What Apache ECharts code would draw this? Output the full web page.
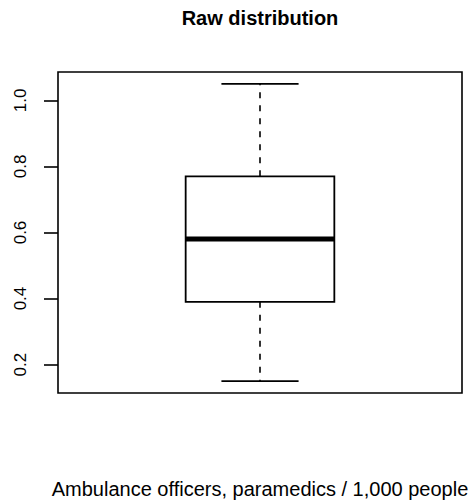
<!DOCTYPE html>
<html>
<head>
<meta charset="utf-8">
<script src="https://cdn.jsdelivr.net/npm/echarts@6/dist/echarts.min.js"></script>
<style>
html,body{margin:0;padding:0;background:#fff;overflow:hidden;}
#chart{width:473px;height:504px;}
</style>
</head>
<body>
<div id="chart"></div>
<script>
// ---- data ----
const titleText = 'Raw distribution';
const xLabel = 'Ambulance officers, paramedics / 1,000 people';
const boxPositions = [1];
const whiskerLow = [0.15];
const quartile1 = [0.39];
const medians = [0.58];
const quartile3 = [0.77];
const whiskerHigh = [1.05];
const yTicks = [0.2, 0.4, 0.6, 0.8, 1.0];
const yTickLabels = ['0.2', '0.4', '0.6', '0.8', '1.0'];

// R-style axis range: data range extended by 4% on each side
const dataMin = Math.min(...whiskerLow);
const dataMax = Math.max(...whiskerHigh);
const pad = (dataMax - dataMin) * 0.04;

const seriesData = boxPositions.map((p, i) => [p, whiskerLow[i], quartile1[i], medians[i], quartile3[i], whiskerHigh[i]]);

const FONT = '"Liberation Sans", Arial, Helvetica, sans-serif';
const BOX_HALF = 0.184;   // in x-data units
const CAP_HALF = 0.0955;

const chart = echarts.init(document.getElementById('chart'), null, {renderer: 'svg'});
chart.setOption({
  animation: false,
  backgroundColor: '#fff',
  title: {
    text: titleText,
    left: 255,
    top: 3,
    textAlign: 'center',
    textStyle: {fontFamily: FONT, fontSize: 20, fontWeight: 'bold', color: '#000'}
  },
  grid: {
    left: 58, top: 72, width: 404, height: 321,
    outerBoundsMode: 'none', containLabel: false,
    show: true, borderColor: '#000', borderWidth: 1.6, backgroundColor: 'transparent'
  },
  xAxis: {
    type: 'value', min: 0.5, max: 1.5,
    name: xLabel, nameLocation: 'middle', nameGap: 86,
    nameTextStyle: {fontFamily: FONT, fontSize: 20, color: '#000'},
    axisLine: {show: false}, axisTick: {show: false}, axisLabel: {show: false},
    splitLine: {show: false}
  },
  yAxis: {
    type: 'value', min: dataMin - pad, max: dataMax + pad,
    axisLine: {show: false},
    splitLine: {show: false},
    axisTick: {show: true, length: 14, customValues: yTicks, lineStyle: {color: '#000', width: 1.6}},
    axisLabel: {
      show: true, customValues: yTicks, rotate: 90, margin: 29,
      formatter: v => yTickLabels[yTicks.findIndex(t => Math.abs(t - v) < 1e-9)],
      fontFamily: FONT, fontSize: 17, color: '#000'
    }
  },
  series: [{
    type: 'custom',
    data: seriesData,
    clip: false,
    renderItem: function (params, api) {
      const x = api.value(0);
      const lo = api.value(1), q1 = api.value(2), md = api.value(3), q3 = api.value(4), hi = api.value(5);
      const pLo = api.coord([x, lo]), pQ1 = api.coord([x, q1]), pMd = api.coord([x, md]);
      const pQ3 = api.coord([x, q3]), pHi = api.coord([x, hi]);
      const bl = api.coord([x - BOX_HALF, md])[0], br = api.coord([x + BOX_HALF, md])[0];
      const cl = api.coord([x - CAP_HALF, md])[0], cr = api.coord([x + CAP_HALF, md])[0];
      const cx = pMd[0];
      const solid = {stroke: '#000', lineWidth: 1.8, fill: null};
      const dashed = {stroke: '#000', lineWidth: 1.6, lineDash: [6, 7], fill: null};
      return {
        type: 'group',
        children: [
          {type: 'line', shape: {x1: cx, y1: pQ3[1], x2: cx, y2: pHi[1]}, style: dashed},
          {type: 'line', shape: {x1: cx, y1: pQ1[1], x2: cx, y2: pLo[1]}, style: dashed},
          {type: 'line', shape: {x1: cl, y1: pHi[1], x2: cr, y2: pHi[1]}, style: solid},
          {type: 'line', shape: {x1: cl, y1: pLo[1], x2: cr, y2: pLo[1]}, style: solid},
          {type: 'rect', shape: {x: bl, y: pQ3[1], width: br - bl, height: pQ1[1] - pQ3[1]}, style: {stroke: '#000', lineWidth: 1.8, fill: '#fff'}},
          {type: 'line', shape: {x1: bl, y1: pMd[1], x2: br, y2: pMd[1]}, style: {stroke: '#000', lineWidth: 5}}
        ]
      };
    }
  }]
});
</script>
</body>
</html>
